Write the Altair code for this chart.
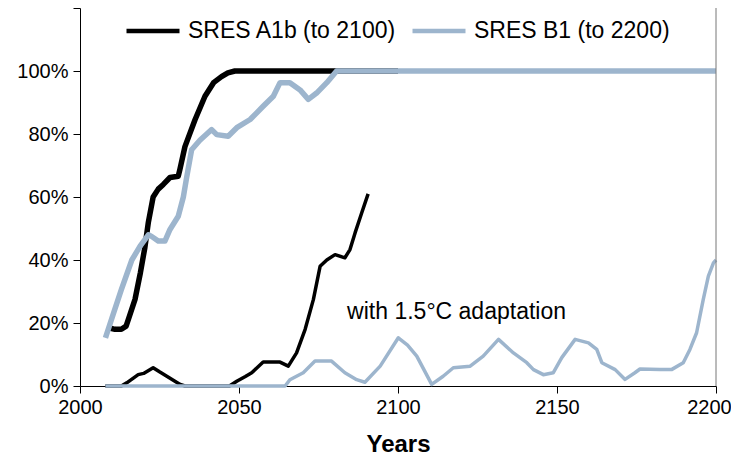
import altair as alt
import pandas as pd

# ---- data ----
a1b_years = [2009, 2011, 2013, 2014.5, 2015.5, 2017.3, 2019, 2020.4, 2021.5, 2023, 2024.6, 2026.2,
             2028.3, 2030.9, 2031.4, 2033, 2036.2, 2039.3, 2042, 2044.5, 2046.5, 2048.7, 2100]
a1b_vals = [0.185, 0.18, 0.18, 0.19, 0.22, 0.275, 0.36, 0.44, 0.52, 0.60, 0.625, 0.64,
            0.662, 0.666, 0.687, 0.76, 0.846, 0.92, 0.963, 0.982, 0.994, 1.0, 1.0]

b1_years = [2008, 2010.5, 2013, 2016.3, 2018.9, 2021.5, 2022.5, 2024.6, 2026.7, 2028.3, 2030.9, 2032.5,
            2033.5, 2035.1, 2037.7, 2041.4, 2043, 2046.6, 2049.3, 2053.5, 2057.6, 2060.8, 2062.9,
            2066, 2069.2, 2071.8, 2074.4, 2077.6, 2080.7, 2200]
b1_vals = [0.153, 0.23, 0.306, 0.40, 0.444, 0.48, 0.475, 0.46, 0.46, 0.497, 0.539, 0.60,
           0.66, 0.75, 0.78, 0.814, 0.798, 0.793, 0.82, 0.846, 0.888, 0.92, 0.963,
           0.963, 0.94, 0.91, 0.93, 0.963, 1.0, 1.0]

a1b_adapt_years = [2008, 2013, 2014.7, 2018.3, 2020, 2023, 2025, 2027.3, 2031.5, 2033, 2047, 2049.3,
                   2052, 2054, 2057.6, 2062.9, 2065.5, 2068.1, 2070.8, 2073.4, 2075.5, 2077.6,
                   2080.2, 2083.3, 2084.9, 2086.5, 2088.6, 2090.6]
a1b_adapt_vals = [0, 0, 0.01, 0.036, 0.04, 0.058, 0.045, 0.031, 0.005, 0, 0, 0.015,
                  0.03, 0.042, 0.076, 0.076, 0.063, 0.105, 0.18, 0.275, 0.38, 0.40,
                  0.417, 0.407, 0.433, 0.486, 0.55, 0.61]

b1_adapt_years = [2008, 2064.5, 2066, 2070.2, 2073.9, 2079.1, 2083.3, 2087, 2089.6, 2094.4, 2100.1,
                  2103, 2105.9, 2110.6, 2114.2, 2117.4, 2122.7, 2126.8, 2131.6, 2136.3, 2140.5,
                  2142.6, 2145.7, 2148.8, 2151.5, 2155.7, 2159.9, 2162.5, 2164.1, 2168.3, 2171.4,
                  2174.5, 2176.1, 2182.4, 2186, 2189.7, 2191.8, 2193.9, 2196, 2197.6, 2199.2, 2200]
b1_adapt_vals = [0, 0, 0.02, 0.042, 0.079, 0.079, 0.042, 0.02, 0.012, 0.063, 0.153,
                 0.13, 0.095, 0.005, 0.031, 0.058, 0.063, 0.095, 0.148, 0.105, 0.074,
                 0.052, 0.036, 0.042, 0.09, 0.148, 0.137, 0.116, 0.074, 0.052, 0.021,
                 0.042, 0.054, 0.052, 0.052, 0.074, 0.116, 0.169, 0.275, 0.349, 0.391, 0.40]

series_names = ["SRES A1b (to 2100)", "SRES B1 (to 2200)"]
series_colors = ["#000000", "#9db5cd"]
y_ticks = [0, 0.2, 0.4, 0.6, 0.8, 1.0, 1.2]
x_ticks = [2000, 2050, 2100, 2150, 2200]
annotation = "with 1.5°C adaptation"

FONT = "Liberation Sans"


def frame(years, vals, name, variant, order):
    return pd.DataFrame({"year": years, "value": vals, "series": name,
                         "variant": variant, "key": f"{order}_{variant}"})


main_df = pd.concat([frame(a1b_years, a1b_vals, series_names[0], "main", 0),
                     frame(b1_years, b1_vals, series_names[1], "main", 1)])
adapt_df = pd.concat([frame(a1b_adapt_years, a1b_adapt_vals, series_names[0], "adapt", 0),
                      frame(b1_adapt_years, b1_adapt_vals, series_names[1], "adapt", 1)])

x_enc = alt.X("year:Q", scale=alt.Scale(domain=[2000, 2200], nice=False),
              axis=alt.Axis(values=x_ticks, format="d", title="Years", grid=False,
                            tickSize=7, labelPadding=4, titlePadding=15, labelFlush=False,
                            labelOffset={"condition": {"test": "datum.value >= 2200", "value": -7},
                                         "value": 0},
                            titleFontSize=24, titleFontWeight="bold"))
y_enc = alt.Y("value:Q", scale=alt.Scale(domain=[0, 1.2], nice=False),
              axis=alt.Axis(values=y_ticks, grid=False, title=None, tickSize=7, labelPadding=5,
                            labelExpr="datum.value > 1.01 ? '' : format(datum.value, '.0%')"))
color_enc = alt.Color("series:N",
                      scale=alt.Scale(domain=series_names, range=series_colors),
                      legend=alt.Legend(orient="none", direction="horizontal", title=None,
                                        legendX=44, legendY=-6, symbolType="stroke",
                                        symbolSize=2809, symbolStrokeWidth=4.5,
                                        labelFontSize=23, labelFont=FONT, labelOffset=6,
                                        labelLimit=0, columnPadding=6, labelColor="black"))

main = alt.Chart(main_df).mark_line(strokeWidth=5.5, strokeJoin="round").encode(
    x=x_enc, y=y_enc, color=color_enc, detail="key:N", order="year:Q")
adapt = alt.Chart(adapt_df).mark_line(strokeWidth=3.5, strokeJoin="round").encode(
    x=x_enc, y=y_enc, color=color_enc, detail="key:N", order="year:Q")

border = alt.Chart(pd.DataFrame({"x": [2200]})).mark_rule(color="#777777", strokeWidth=1).encode(
    x="x:Q")

label = alt.Chart(pd.DataFrame({"x": [2084], "y": [0.236], "t": [annotation]})).mark_text(
    align="left", baseline="middle", fontSize=23, font=FONT, color="black").encode(
    x="x:Q", y="y:Q", text="t:N")

chart = alt.layer(adapt, main, border, label).properties(
    width=636, height=378,
    autosize=alt.AutoSizeParams(type="none"),
    padding={"left": 72, "top": 0, "right": 15, "bottom": 70}
).configure_view(stroke=None).configure_axis(
    labelFont=FONT, titleFont=FONT, labelFontSize=20, labelColor="black", titleColor="black",
    domainColor="black", tickColor="black", domainWidth=1, tickWidth=1
)

chart.save("out.html", embed_options={"renderer": "svg", "actions": False})
